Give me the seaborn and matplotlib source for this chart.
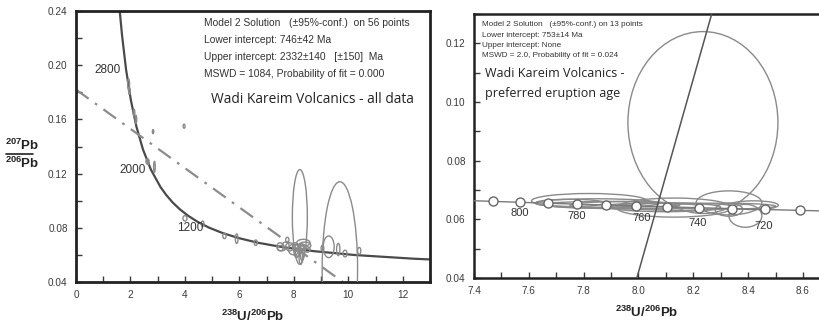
import numpy as np
import pandas as pd
import matplotlib
matplotlib.use("Agg")
import matplotlib.pyplot as plt
from matplotlib.patches import Ellipse
from matplotlib.lines import Line2D
from matplotlib.ticker import MultipleLocator
import seaborn as sns

# ---------------- data ----------------
# Left panel: concordia curve (x = 238U/206Pb, y = 207Pb/206Pb)
conc_left_x = [1.606, 1.687, 1.838, 2.013, 2.217, 2.459, 2.749, 3.105, 3.314, 3.550,
               3.817, 4.123, 4.476, 4.888, 5.375, 5.960, 6.674, 7.568, 8.718, 10.252,
               12.399, 13.222]
conc_left_y = [0.2400, 0.2227, 0.1968, 0.1744, 0.1548, 0.1378, 0.1230, 0.1100, 0.1042, 0.0987,
               0.0936, 0.0888, 0.0843, 0.0801, 0.0762, 0.0725, 0.0690, 0.0658, 0.0628, 0.0599,
               0.0572, 0.05645]
age_labels_left = ["2800", "2000", "1200"]
age_label_left_x = [1.838, 2.749, 4.888]
age_label_left_y = [0.1968, 0.1230, 0.0801]

# Discordia (model 2) line through the all-data set
disc_left_x = [0.0, 9.80]
disc_left_y = [0.182, 0.040]

# Left error ellipses: centre x, centre y, width, height
ell_left_cx = [1.93, 1.96, 2.13, 2.20, 2.83, 3.97, 2.62, 2.88, 2.65, 4.00, 4.65, 5.45, 5.90,
               6.60, 7.50, 7.76, 8.05, 8.35, 8.25, 9.28, 9.63, 9.88, 10.40, 9.05, 7.55,
               7.70, 7.85, 8.00, 8.10, 8.20, 8.30, 8.40, 8.30, 8.15, 8.50, 8.22, 9.69]
ell_left_cy = [0.186, 0.181, 0.165, 0.160, 0.151, 0.155, 0.129, 0.125, 0.1286, 0.087, 0.083,
               0.074, 0.072, 0.069, 0.066, 0.071, 0.066, 0.069, 0.059, 0.066, 0.064, 0.061,
               0.063, 0.065, 0.065, 0.067, 0.066, 0.064, 0.063, 0.065, 0.062, 0.067, 0.066,
               0.0615, 0.064, 0.088, 0.050]
ell_left_w = [0.07, 0.06, 0.06, 0.06, 0.05, 0.07, 0.10, 0.06, 0.06, 0.15, 0.10, 0.12, 0.10,
              0.12, 0.25, 0.12, 0.20, 0.49, 0.12, 0.40, 0.12, 0.15, 0.12, 0.10, 0.30,
              0.25, 0.30, 0.40, 0.20, 0.35, 0.15, 0.45, 0.25, 0.20, 0.20, 0.55, 1.30]
ell_left_h = [0.008, 0.005, 0.005, 0.006, 0.003, 0.003, 0.004, 0.008, 0.004, 0.004, 0.004,
              0.004, 0.007, 0.004, 0.006, 0.004, 0.006, 0.005, 0.012, 0.016, 0.009, 0.005,
              0.005, 0.004, 0.004, 0.005, 0.006, 0.008, 0.010, 0.006, 0.012, 0.005, 0.004,
              0.005, 0.004, 0.070, 0.128]

# Right panel: concordia ages 820..700 Ma and their positions
conc_right_age = [820, 810, 800, 790, 780, 770, 760, 750, 740, 730, 720, 710, 700]
conc_right_x = [7.3721, 7.4690, 7.5684, 7.6708, 7.7747, 7.8819, 7.9920, 8.1049, 8.2210,
                8.3402, 8.4627, 8.5886, 8.7184]
conc_right_y = [0.06643, 0.06612, 0.06580, 0.06549, 0.06518, 0.06487, 0.06456, 0.06425,
                0.06395, 0.06365, 0.06335, 0.06305, 0.06276]
marker_ages = [810, 800, 790, 780, 770, 760, 750, 740, 730, 720, 710]
label_ages = [800, 780, 760, 740, 720]

# Right discordia (anchored line)
disc_right_x = [7.994, 8.267]
disc_right_y = [0.040, 0.130]

# Right error ellipses
ell_right_cx = [8.235, 7.82, 7.85, 7.90, 7.95, 8.05, 8.10, 8.15, 8.33, 8.33, 8.39, 8.13, 8.42,
                7.75, 8.30]
ell_right_cy = [0.093, 0.0663, 0.0655, 0.0651, 0.0648, 0.0645, 0.0641, 0.0643, 0.0656,
                0.0633, 0.0612, 0.0640, 0.0648, 0.0656, 0.0645]
ell_right_w = [0.547, 0.42, 0.45, 0.50, 0.40, 0.35, 0.40, 0.40, 0.24, 0.10, 0.12, 0.42, 0.18,
               0.25, 0.40]
ell_right_h = [0.062, 0.0050, 0.0030, 0.0020, 0.0025, 0.0020, 0.0030, 0.0025, 0.0082, 0.0045,
               0.0078, 0.0065, 0.0030, 0.0025, 0.0020]

# ---------------- style ----------------
sns.set_style("ticks")
plt.rcParams["font.family"] = ["Liberation Sans", "DejaVu Sans"]
plt.rcParams["mathtext.fontset"] = "custom"
plt.rcParams["mathtext.rm"] = "Liberation Sans"
plt.rcParams["mathtext.bf"] = "Liberation Sans:bold"

TICK_C = "#3a3a3a"
CURVE_C = "#4a4a4a"
ELL_C = "#8a8a8a"

fig = plt.figure(figsize=(8.2, 3.24), dpi=100)
axL = fig.add_axes([0.0927, 0.1296, 0.4317, 0.8364])
axR = fig.add_axes([0.578, 0.142, 0.422, 0.8148])

def style_axes(ax, lw):
    for s in ax.spines.values():
        s.set_linewidth(lw)
        s.set_color("#222222")
    ax.tick_params(which="both", direction="in", colors=TICK_C, labelcolor=TICK_C,
                   labelsize=7.2, width=1, pad=6)
    ax.tick_params(which="major", length=4)
    ax.tick_params(which="minor", length=4)

# ---------------- left panel ----------------
df_cl = pd.DataFrame({"x": conc_left_x, "y": conc_left_y})
sns.lineplot(data=df_cl, x="x", y="y", ax=axL, color=CURVE_C, lw=1.6, sort=False)
df_dl = pd.DataFrame({"x": disc_left_x, "y": disc_left_y})
sns.lineplot(data=df_dl, x="x", y="y", ax=axL, color="#8c8c8c", lw=1.6,
             linestyle=(0, (7, 3.5, 1.2, 3.5)))
for cx, cy, w, h in zip(ell_left_cx, ell_left_cy, ell_left_w, ell_left_h):
    axL.add_patch(Ellipse((cx, cy), w, h, fill=False, ec=ELL_C, lw=1.0, zorder=3))
for lab, lx, ly in zip(age_labels_left, age_label_left_x, age_label_left_y):
    axL.annotate(lab, (lx, ly), xytext=(-4, 0), textcoords="offset points",
                 ha="right", va="center", fontsize=8.5, color="#333333")

axL.set_xlim(0, 13)
axL.set_ylim(0.04, 0.24)
axL.xaxis.set_minor_locator(MultipleLocator(1))
axL.yaxis.set_minor_locator(MultipleLocator(0.02))
axL.set_xticks(np.arange(0, 13, 2))
axL.set_xticklabels([f"{v:d}" for v in range(0, 13, 2)])
axL.set_yticks(np.arange(0.04, 0.2401, 0.04))
axL.set_yticklabels([f"{v:.2f}" for v in np.arange(0.04, 0.2401, 0.04)])
axL.set_xlabel(r"$\mathbf{^{238}U/^{206}Pb}$", fontsize=9.5, color="#222222", labelpad=6)
axL.set_ylabel("")
style_axes(axL, 2.0)

txtL = ["Model 2 Solution   (\u00b195%-conf.)  on 56 points",
        "Lower intercept: 746\u00b142 Ma",
        "Upper intercept: 2332\u00b1140   [\u00b1150]  Ma",
        "MSWD = 1084, Probability of fit = 0.000"]
for t, yy in zip(txtL, [0.956, 0.893, 0.830, 0.768]):
    axL.text(0.362, yy, t, transform=axL.transAxes, fontsize=7.4, color="#333333",
             ha="left", va="center")
axL.text(0.381, 0.675, "Wadi Kareim Volcanics - all data", transform=axL.transAxes,
         fontsize=9.9, family=["Open Sans", "DejaVu Sans"], color="#222222",
         ha="left", va="center")

# y label as stacked fraction
fig.text(0.027, 1 - 145 / 324, r"$\mathbf{^{207}Pb}$", ha="center", va="center",
         fontsize=9.5, color="#222222")
fig.text(0.027, 1 - 163 / 324, r"$\mathbf{^{206}Pb}$", ha="center", va="center",
         fontsize=9.5, color="#222222")
fig.add_artist(Line2D([6 / 820, 33 / 820], [1 - 153.5 / 324, 1 - 153.5 / 324],
                      color="#222222", lw=1.2, transform=fig.transFigure))

# ---------------- right panel ----------------
df_cr = pd.DataFrame({"age": conc_right_age, "x": conc_right_x, "y": conc_right_y})
for cx, cy, w, h in zip(ell_right_cx, ell_right_cy, ell_right_w, ell_right_h):
    axR.add_patch(Ellipse((cx, cy), w, h, fill=False, ec=ELL_C, lw=1.0, zorder=3))
sns.lineplot(data=df_cr, x="x", y="y", ax=axR, color="#7a7a7a", lw=1.0, sort=False, zorder=4)
df_dr = pd.DataFrame({"x": disc_right_x, "y": disc_right_y})
sns.lineplot(data=df_dr, x="x", y="y", ax=axR, color="#555555", lw=1.1, zorder=5)
df_mk = df_cr[df_cr["age"].isin(marker_ages)]
sns.scatterplot(data=df_mk, x="x", y="y", ax=axR, s=42, color="white",
                edgecolor="#666666", linewidth=1.0, zorder=6)
df_lb = df_cr[df_cr["age"].isin(label_ages)]
label_dx = [0, 0, 4, -1, -1]
label_dy = [-8, -8.5, -9, -11, -12]
for (_, r), dx, dy in zip(df_lb.iterrows(), label_dx, label_dy):
    axR.annotate(f"{int(r['age'])}", (r["x"], r["y"]), xytext=(dx, dy),
                 textcoords="offset points", ha="center", va="center",
                 fontsize=8, color="#333333", zorder=7)

axR.set_xlim(7.4, 8.662)
axR.set_ylim(0.04, 0.130)
axR.xaxis.set_minor_locator(MultipleLocator(0.1))
axR.yaxis.set_minor_locator(MultipleLocator(0.01))
xt = np.arange(7.4, 8.61, 0.2)
axR.set_xticks(xt)
axR.set_xticklabels([f"{v:.1f}" for v in xt])
yt = np.arange(0.04, 0.121, 0.02)
axR.set_yticks(yt)
axR.set_yticklabels([f"{v:.2f}" for v in yt])
axR.set_xlabel(r"$\mathbf{^{238}U/^{206}Pb}$", fontsize=9.5, color="#222222", labelpad=6)
axR.set_ylabel("")
style_axes(axR, 1.8)
axR.spines["right"].set_visible(False)

txtR = ["Model 2 Solution   (\u00b195%-conf.) on 13 points",
        "Lower intercept: 753\u00b114 Ma",
        "Upper intercept: None",
        "MSWD = 2.0, Probability of fit = 0.024"]
for t, yy in zip(txtR, [0.962, 0.920, 0.879, 0.841]):
    axR.text(0.023, yy, t, transform=axR.transAxes, fontsize=5.9, color="#333333",
             ha="left", va="center")
axR.text(0.032, 0.773, "Wadi Kareim Volcanics -", transform=axR.transAxes,
         fontsize=9.0, family=["Open Sans", "DejaVu Sans"], color="#222222",
         ha="left", va="center")
axR.text(0.032, 0.697, "preferred eruption age", transform=axR.transAxes,
         fontsize=9.0, family=["Open Sans", "DejaVu Sans"], color="#222222",
         ha="left", va="center")

fig.savefig("out.png", dpi=100)
